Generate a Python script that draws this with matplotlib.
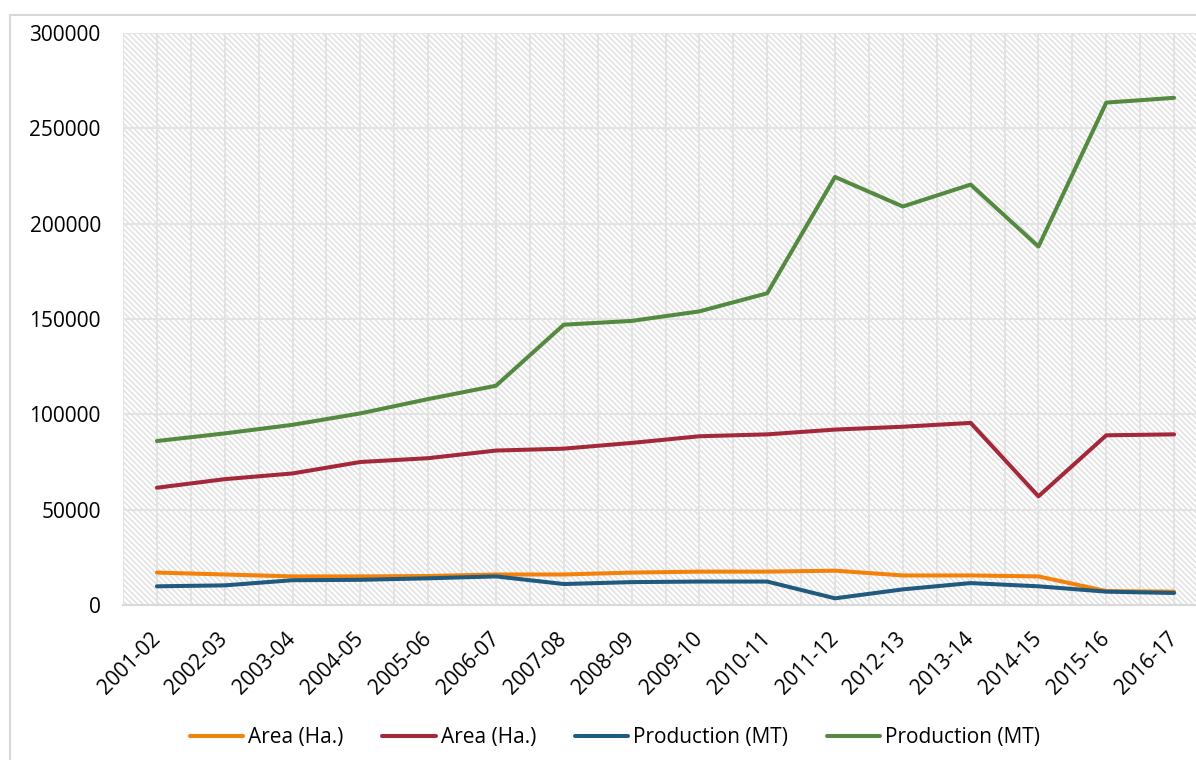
import numpy as np
import matplotlib
matplotlib.use("Agg")
import matplotlib.pyplot as plt
import matplotlib.patches as mpatches

years = ["2001-02", "2002-03", "2003-04", "2004-05", "2005-06", "2006-07",
         "2007-08", "2008-09", "2009-10", "2010-11", "2011-12", "2012-13",
         "2013-14", "2014-15", "2015-16", "2016-17"]

area_1 = [17000, 16000, 15000, 15000, 15200, 16000, 16000, 17000,
          17500, 17500, 18000, 15500, 15500, 15000, 7300, 7000]
area_2 = [61500, 66000, 69000, 75000, 77000, 81000, 82000, 85000,
          88500, 89500, 92000, 93500, 95500, 57000, 89000, 89500]
prod_1 = [9800, 10300, 13000, 13200, 14000, 15000, 11000, 12000,
          12300, 12300, 3500, 8200, 11500, 9800, 7000, 6300]
prod_2 = [86000, 90000, 94500, 100500, 108000, 115000, 147000, 149000,
          154000, 163500, 224500, 209000, 220500, 188000, 263500, 266000]

plt.rcParams["font.family"] = ["Open Sans", "DejaVu Sans"]
plt.rcParams["hatch.linewidth"] = 1.2

W, H = 1196, 760
fig = plt.figure(figsize=(W / 100, H / 100), dpi=100)

# outer chart border
fig.patches.append(mpatches.Rectangle((10 / W, -0.1), 1.2, (H - 15) / H + 0.1,
                                      transform=fig.transFigure, fill=False,
                                      ec="#d9d9d9", lw=1.5, zorder=0))

left, right, top, bottom = 123, 1208, 33, 605
ax = fig.add_axes([left / W, 1 - bottom / H, (right - left) / W, (bottom - top) / H])

x = np.arange(len(years))
ax.set_xlim(-0.5, len(years) - 0.5)
ax.set_ylim(0, 300000)

# hatched plot area
ax.add_patch(mpatches.Rectangle((0, 0), 1, 1, transform=ax.transAxes,
                                fc="none", ec="#e2e2e2", hatch="\\\\\\\\\\\\",
                                lw=0, zorder=0))

for xv in np.arange(-0.5, len(years), 0.5):
    ax.axvline(xv, color="#e3e3e3", lw=1.4, zorder=1)
for yv in range(50000, 300001, 50000):
    ax.axhline(yv, color="#e3e3e3", lw=1.4, zorder=1)

series = [
    ("Area (Ha.)", area_1, "#F4820A"),
    ("Area (Ha.)", area_2, "#A3283A"),
    ("Production (MT)", prod_1, "#205A7E"),
    ("Production (MT)", prod_2, "#538A3F"),
]
handles = []
for name, vals, col in series:
    h, = ax.plot(x, vals, color=col, lw=2.9, solid_capstyle="round",
                 solid_joinstyle="round", label=name, zorder=3)
    handles.append(h)

for s in ["top", "right", "left"]:
    ax.spines[s].set_visible(False)
ax.spines["bottom"].set_color("#d9d9d9")
ax.spines["bottom"].set_linewidth(1.5)

ax.set_xticks(x)
ax.set_xticklabels(years, rotation=45, ha="right", va="center",
                   rotation_mode="anchor", fontsize=15)
ax.set_yticks(range(0, 300001, 50000))
ax.set_yticklabels([str(v) for v in range(0, 300001, 50000)], fontsize=15)
ax.tick_params(length=0)
ax.tick_params(axis="x", pad=22)
ax.tick_params(axis="y", pad=16)

fig.legend(handles=handles, loc="center", ncol=4, frameon=False,
           bbox_to_anchor=(615 / W, 1 - 738 / H), fontsize=15,
           handlelength=2.55, handletextpad=0.25, columnspacing=1.85)

fig.savefig("out.png", dpi=100)
